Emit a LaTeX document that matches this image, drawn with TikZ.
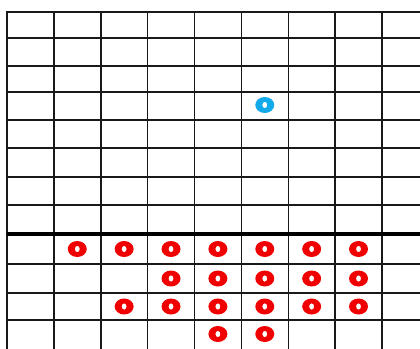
\documentclass[tikz,border=0pt]{standalone}
\usepackage{xcolor}
\definecolor{stoneRed}{RGB}{240,0,0}
\definecolor{stoneBlue}{RGB}{18,170,235}
\definecolor{gridDark}{RGB}{25,25,25}
\begin{document}
\begin{tikzpicture}[
    x=1pt, y=-1pt,
    gridLine/.style={draw=gridDark, line width=1.5pt, line cap=rect},
    borderLine/.style={draw=black, line width=4.5pt},
    stoneRing/.style={even odd rule}
]
    \useasboundingbox (0,0) rectangle (420,348);
    \clip (0,0) rectangle (420,348);

    % Board lines
    \foreach \gx in {0,...,8}
        \draw[gridLine] (7+46.875*\gx,12) -- (7+46.875*\gx,360);
    \foreach \gy in {12,38,66,92,120,148,177,205,264,293,320}
        \draw[gridLine] (7,\gy) -- (430,\gy);
    \draw[borderLine] (7,234) -- (430,234);

    % Red stones
    \foreach \sy/\cols in {249/{1,2,3,4,5,6,7}, 278.5/{3,4,5,6,7}, 306.5/{2,3,4,5,6,7}, 334/{4,5}}
        \foreach \sx in \cols
            \fill[stoneRing, stoneRed] (30.4+46.875*\sx,\sy)
                ellipse [x radius=9.5, y radius=8] ellipse [x radius=2.5, y radius=3.2];

    % Blue stone
    \fill[stoneRing, stoneBlue] (30.4+46.875*5,105)
        ellipse [x radius=9.5, y radius=8] ellipse [x radius=2.5, y radius=3.2];
\end{tikzpicture}
\end{document}
